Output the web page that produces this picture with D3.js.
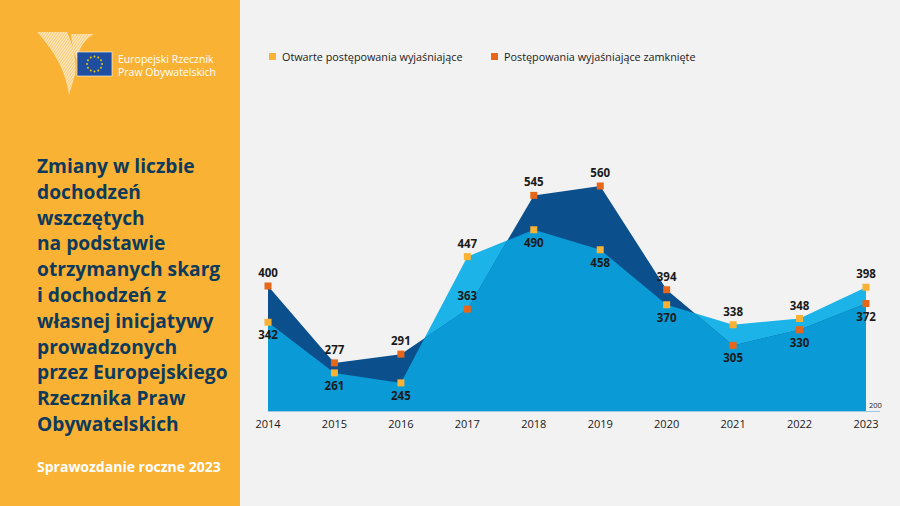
<!DOCTYPE html>
<html>
<head>
<meta charset="utf-8">
<script src="https://cdn.jsdelivr.net/npm/d3@7"></script>
<style>
  html, body { margin: 0; padding: 0; background: #f2f2f2; }
  svg { display: block; font-family: "Open Sans", "Noto Sans", sans-serif; }
</style>
</head>
<body>
<div id="chart"></div>
<script>
// Data
const years = ["2014", "2015", "2016", "2017", "2018", "2019", "2020", "2021", "2022", "2023"];
const openCases = [342, 261, 245, 447, 490, 458, 370, 338, 348, 398];
const closedCases = [400, 277, 291, 363, 545, 560, 394, 305, 330, 372];
const seriesNames = ["Otwarte postępowania wyjaśniające", "Postępowania wyjaśniające zamknięte"];
const titleLines = [
    "Zmiany w liczbie", "dochodzeń", "wszczętych", "na podstawie",
    "otrzymanych skarg", "i dochodzeń z", "własnej inicjatywy", "prowadzonych",
    "przez Europejskiego", "Rzecznika Praw", "Obywatelskich"
];
const logoLines = ["Europejski Rzecznik", "Praw Obywatelskich"];
const subtitle = "Sprawozdanie roczne 2023";
const baseValue = 200;
// years where the smaller value's label sits above its marker
const lowLabelAbove = ["2017"];

(function () {
    const W = 900, H = 506;
    const colors = {
        panel: "#f9b233",
        bg: "#f2f2f2",
        navy: "#0b4f8d",
        cyan: "#1bb3e8",
        mid: "#0a9bd7",
        open: "#f9b233",
        closed: "#e8661a",
        title: "#0e3a5c",
        text: "#1a1a1a"
    };

    const svg = d3.select("#chart").append("svg")
        .attr("width", W)
        .attr("height", H);

    svg.append("rect").attr("width", W).attr("height", H).attr("fill", colors.bg);

    // ---------- left panel ----------
    svg.append("rect")
        .attr("width", 240)
        .attr("height", H)
        .attr("fill", colors.panel);

    const defs = svg.append("defs");
    const hatch = defs.append("pattern")
        .attr("id", "hatch")
        .attr("patternUnits", "userSpaceOnUse")
        .attr("width", 2.2)
        .attr("height", 2.2)
        .attr("patternTransform", "rotate(35)");
    hatch.append("rect").attr("width", 2.2).attr("height", 2.2).attr("fill", "rgba(255,255,255,0.4)");
    hatch.append("line")
        .attr("x1", 0).attr("y1", 0).attr("x2", 0).attr("y2", 2.2)
        .attr("stroke", "rgba(255,255,255,0.9)")
        .attr("stroke-width", 1);

    // stylised wing mark
    const logo = svg.append("g");
    logo.append("path")
        .attr("d", "M37,32 L67,32 C73,45 77,60 75,75 L69,95 C66,75 58,55 37,32 Z")
        .attr("fill", "url(#hatch)");
    logo.append("path")
        .attr("d", "M71,34 L94,34 C84,40 79,48 77,60 L73,50 Z")
        .attr("fill", "url(#hatch)");

    // EU flag
    const flag = logo.append("g").attr("transform", "translate(77,52)");
    flag.append("rect").attr("width", 35).attr("height", 24).attr("fill", "#1f4ea1")
        .attr("stroke", "#ffffff").attr("stroke-width", 0.6);
    d3.range(12).forEach(i => {
        const a = i / 12 * 2 * Math.PI;
        flag.append("circle")
            .attr("cx", 17.5 + Math.cos(a) * 7.5)
            .attr("cy", 12 + Math.sin(a) * 7.5)
            .attr("r", 0.9)
            .attr("fill", "#ffd500");
    });

    logo.selectAll(".logo-text")
        .data(logoLines)
        .enter()
        .append("text")
        .attr("class", "logo-text")
        .attr("x", 118)
        .attr("y", (d, i) => 63 + i * 12.5)
        .attr("font-size", 10.5)
        .attr("fill", "#ffffff")
        .text(d => d);

    svg.append("g")
        .selectAll("text")
        .data(titleLines)
        .enter()
        .append("text")
        .attr("x", 37)
        .attr("y", (d, i) => 173 + i * 25.8)
        .attr("font-size", 19.2)
        .attr("font-weight", 700)
        .attr("fill", colors.title)
        .text(d => d);

    svg.append("text")
        .attr("x", 37)
        .attr("y", 472)
        .attr("font-size", 14)
        .attr("font-weight", 700)
        .attr("fill", "#ffffff")
        .text(subtitle);

    // ---------- chart ----------
    const x = d3.scalePoint().domain(years).range([268, 866]);
    const y = d3.scaleLinear().domain([baseValue, 560]).range([411, 186]);

    const areaOf = vals => d3.area()
        .x((d, i) => x(years[i]))
        .y0(y(baseValue))
        .y1(d => y(d))(vals);

    defs.append("clipPath")
        .attr("id", "closed-clip")
        .append("path")
        .attr("d", areaOf(closedCases));

    svg.append("path").attr("d", areaOf(openCases)).attr("fill", colors.cyan);
    svg.append("path").attr("d", areaOf(closedCases)).attr("fill", colors.navy);
    svg.append("path")
        .attr("d", areaOf(openCases))
        .attr("clip-path", "url(#closed-clip)")
        .attr("fill", colors.mid);

    // baseline
    svg.append("line")
        .attr("x1", x(years[0])).attr("x2", 880)
        .attr("y1", y(baseValue) + 0.5).attr("y2", y(baseValue) + 0.5)
        .attr("stroke", "#9fc9e3")
        .attr("stroke-width", 1);
    svg.append("text")
        .attr("x", 869)
        .attr("y", 408)
        .attr("font-size", 7.5)
        .attr("fill", colors.text)
        .text(baseValue);

    // year labels
    svg.append("g")
        .selectAll("text")
        .data(years)
        .enter()
        .append("text")
        .attr("x", d => x(d))
        .attr("y", 428)
        .attr("text-anchor", "middle")
        .attr("font-size", 11)
        .attr("fill", colors.text)
        .text(d => d);

    // markers and value labels
    const series = [
        { name: seriesNames[0], values: openCases, color: colors.open },
        { name: seriesNames[1], values: closedCases, color: colors.closed }
    ];

    series.forEach((s, si) => {
        const other = series[1 - si].values;
        const g = svg.append("g");
        g.selectAll("rect")
            .data(s.values)
            .enter()
            .append("rect")
            .attr("x", (d, i) => x(years[i]) - 3.5)
            .attr("y", d => y(d) - 3.5)
            .attr("width", 7)
            .attr("height", 7)
            .attr("fill", s.color);

        g.selectAll("text")
            .data(s.values)
            .enter()
            .append("text")
            .attr("x", (d, i) => x(years[i]))
            .attr("y", (d, i) => {
                const above = d >= other[i] || lowLabelAbove.includes(years[i]);
                return above ? y(d) - 9 : y(d) + 17;
            })
            .attr("text-anchor", "middle")
            .attr("font-size", 11.5)
            .attr("font-weight", 700)
            .attr("fill", colors.text)
            .text(d => d);
    });

    // legend
    const legendX = [269, 491];
    const legend = svg.append("g")
        .selectAll("g")
        .data(series)
        .enter()
        .append("g")
        .attr("transform", (d, i) => `translate(${legendX[i]}, 53)`);
    legend.append("rect")
        .attr("width", 7)
        .attr("height", 7)
        .attr("fill", d => d.color);
    legend.append("text")
        .attr("x", 13)
        .attr("y", 7.5)
        .attr("font-size", 10.8)
        .attr("fill", colors.text)
        .text(d => d.name);
})();
</script>
</body>
</html>
